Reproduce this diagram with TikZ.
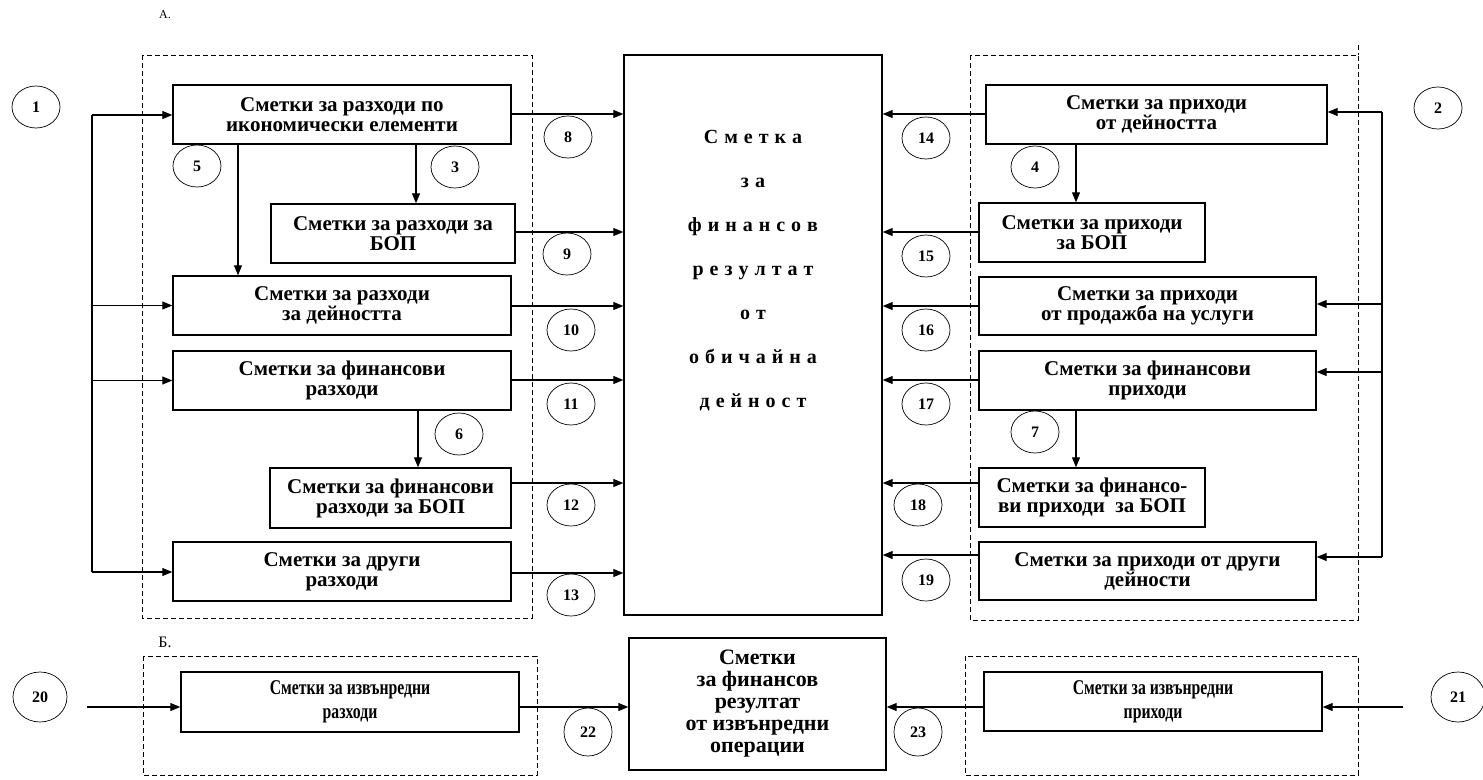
\documentclass[tikz,border=0pt]{standalone}
\usepackage{fontspec}
\setmainfont{Liberation Serif}
\newfontfamily\condfont{Liberation Serif}[FakeStretch=0.75]
\usetikzlibrary{arrows.meta,shapes.geometric}
\tikzset{
 box/.style={draw, line width=1.4pt, align=center, inner sep=0pt, font=\bfseries\fontsize{21}{20}\selectfont},
 condbox/.style={box, font=\condfont\bfseries\fontsize{21}{24}\selectfont},
 num/.style={draw, ellipse, line width=0.7pt, minimum width=48pt, minimum height=42pt, inner sep=0pt, font=\bfseries\fontsize{16}{16}\selectfont},
 bignum/.style={num, minimum width=54pt, minimum height=50pt},
 arr/.style={line width=1.1pt, -{Triangle[length=10pt,width=8pt]}},
 ln/.style={line width=1.1pt},
 dbox/.style={line width=0.9pt, dash pattern=on 5pt off 3pt},
}
\begin{document}
\begin{tikzpicture}[x=1pt,y=-1pt]
\useasboundingbox[fill=white] (0,0) rectangle (1483,779);

% section labels
\node[font=\fontsize{12}{12}\selectfont] (lA) at (165,15) {А.};
\node[font=\fontsize{16}{16}\selectfont] (lB) at (165,642) {Б.};

% dashed groups
\draw[dbox] (142,55) rectangle (532,618);
\draw[dbox] (970,55) rectangle (1358,620);
\draw[dbox] (1358,45) -- (1358,55);
\draw[dbox] (143,656) rectangle (537,775);
\draw[dbox] (965,656) rectangle (1358,775);

% centre box
\node[box, minimum width=258pt, minimum height=560pt] (c) at (753,335) {};
\node[font=\bfseries\fontsize{20}{44}\selectfont, align=center, inner sep=0pt] (ctext) at (753,271) {%
\spaceskip=6pt С м е т к а\\ \spaceskip=6pt з а\\ \spaceskip=6pt ф и н а н с о в\\ \spaceskip=6pt р е з у л т а т\\ \spaceskip=6pt о т\\ \spaceskip=6pt о б и ч а й н а\\ \spaceskip=6pt д е й н о с т};

% left boxes
\node[box, minimum width=338pt, minimum height=59pt] (e1) at (342,114.5) {Сметки за разходи по\\икономически елементи};
\node[box, minimum width=244pt, minimum height=59pt] (e2) at (393,233.5) {Сметки за разходи за\\БОП};
\node[box, minimum width=338pt, minimum height=59pt] (e3) at (342,305.5) {Сметки за разходи\\за дейността};
\node[box, minimum width=338pt, minimum height=59pt] (e4) at (342,380.5) {Сметки за финансови\\разходи};
\node[box, minimum width=241pt, minimum height=60pt] (e5) at (390.5,498) {Сметки за финансови\\разходи за БОП};
\node[box, minimum width=338pt, minimum height=59pt] (e6) at (342,571.5) {Сметки за други\\разходи};

% right boxes
\node[box, minimum width=341pt, minimum height=59pt] (r1) at (1156.5,114.5) {Сметки за приходи\\от дейността};
\node[box, minimum width=226pt, minimum height=59pt] (r2) at (1092,232.5) {Сметки за приходи\\за БОП};
\node[box, minimum width=337pt, minimum height=58pt] (r3) at (1147.5,306) {Сметки за приходи\\от продажба на услуги};
\node[box, minimum width=337pt, minimum height=59pt] (r4) at (1147.5,380.5) {Сметки за финансови\\приходи};
\node[box, minimum width=226pt, minimum height=59pt] (r5) at (1092,497.5) {Сметки за финансо-\\ви приходи\ \ за БОП};
\node[box, minimum width=337pt, minimum height=58pt] (r6) at (1147.5,571) {Сметки за приходи от други\\дейности};

% bottom boxes
\node[condbox, minimum width=338pt, minimum height=60pt] (x1) at (350,702) {Сметки за извънредни\\разходи};
\node[box, minimum width=257pt, minimum height=132pt, font=\bfseries\fontsize{22}{22}\selectfont] (c2) at (757.5,704) {Сметки\\за финансов\\резултат\\от извънредни\\операции};
\node[condbox, minimum width=338pt, minimum height=59pt] (x2) at (1153,701.5) {Сметки за извънредни\\приходи};

% number circles
\node[num] (n1) at (36,107) {1};
\node[num] (n2) at (1438,108) {2};
\node[num] (n3) at (455,167) {3};
\node[num] (n4) at (1035,167) {4};
\node[num] (n5) at (197,166) {5};
\node[num] (n6) at (459,434) {6};
\node[num] (n7) at (1035,432) {7};
\node[num] (n8) at (568,137) {8};
\node[num] (n9) at (567,254) {9};
\node[num] (n10) at (571,330) {10};
\node[num] (n11) at (571,404) {11};
\node[num] (n12) at (571,505) {12};
\node[num] (n13) at (571,595) {13};
\node[num] (n14) at (926,138) {14};
\node[num] (n15) at (926,256) {15};
\node[num] (n16) at (926,330) {16};
\node[num] (n17) at (926,404) {17};
\node[num] (n18) at (918,505) {18};
\node[num] (n19) at (926,580) {19};
\node[bignum] (n20) at (40,697) {20};
\node[bignum] (n21) at (1458,697) {21};
\node[num, minimum height=48pt] (n22) at (588,732) {22};
\node[num, minimum height=48pt] (n23) at (918,732) {23};

% helper coordinates
\coordinate (lv) at (92,115);
\coordinate (lvb) at (92,572);
\coordinate (rv) at (1382,112);
\coordinate (rvb) at (1382,557);
\coordinate (xa) at (238,0);
\coordinate (xb) at (416,0);
\coordinate (xc) at (418,0);
\coordinate (xd) at (1076,0);
\coordinate (y3) at (0,304);
\coordinate (y4) at (0,372);
\coordinate (y14) at (0,114);
\coordinate (y15) at (0,232);
\coordinate (y16) at (0,306);
\coordinate (y17) at (0,380);
\coordinate (y18) at (0,483);
\coordinate (y19) at (0,555);
\coordinate (y13) at (0,573);
\coordinate (yb) at (0,707);
\coordinate (s20) at (87,707);
\coordinate (s21) at (1403,707);

% left distribution
\draw[ln] (lv) -- (lvb);
\draw[arr] (lv) -- (lv -| e1.west);
\draw[arr] (lv |- e3.west) -- (e3.west);
\draw[arr] (lv |- e4.west) -- (e4.west);
\draw[arr] (lvb) -- (lvb -| e6.west);

% right distribution
\draw[ln] (rv) -- (rvb);
\draw[arr] (rv) -- (rv -| r1.east);
\draw[arr] (rv |- y3) -- (y3 -| r3.east);
\draw[arr] (rv |- y4) -- (y4 -| r4.east);
\draw[arr] (rvb) -- (rvb -| r6.east);

% internal vertical arrows
\draw[arr] (e1.south -| xa) -- (e3.north -| xa);
\draw[arr] (e1.south -| xb) -- (e2.north -| xb);
\draw[arr] (e4.south -| xc) -- (e5.north -| xc);
\draw[arr] (r1.south -| xd) -- (r2.north -| xd);
\draw[arr] (r4.south -| xd) -- (r5.north -| xd);

% into centre box from the left
\draw[arr] (y14 -| e1.east) -- (y14 -| c.west);
\draw[arr] (y15 -| e2.east) -- (y15 -| c.west);
\draw[arr] (y16 -| e3.east) -- (y16 -| c.west);
\draw[arr] (y17 -| e4.east) -- (y17 -| c.west);
\draw[arr] (y18 -| e5.east) -- (y18 -| c.west);
\draw[arr] (y13 -| e6.east) -- (y13 -| c.west);

% into centre box from the right
\draw[arr] (y14 -| r1.west) -- (y14 -| c.east);
\draw[arr] (y15 -| r2.west) -- (y15 -| c.east);
\draw[arr] (y16 -| r3.west) -- (y16 -| c.east);
\draw[arr] (y17 -| r4.west) -- (y17 -| c.east);
\draw[arr] (y18 -| r5.west) -- (y18 -| c.east);
\draw[arr] (y19 -| r6.west) -- (y19 -| c.east);

% bottom part
\draw[arr] (s20) -- (s20 -| x1.west);
\draw[arr] (yb -| x1.east) -- (yb -| c2.west);
\draw[arr] (yb -| x2.west) -- (yb -| c2.east);
\draw[arr] (s21) -- (s21 -| x2.east);
\end{tikzpicture}
\end{document}
